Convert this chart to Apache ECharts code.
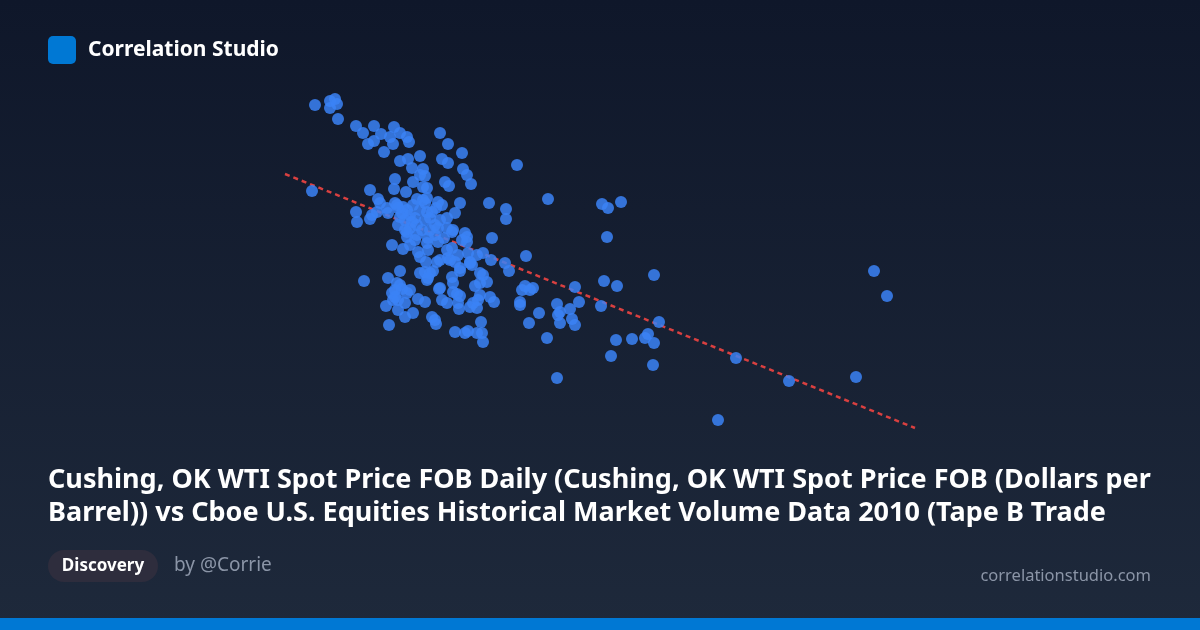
<!DOCTYPE html>
<html>
<head>
<meta charset="utf-8">
<script src="https://cdn.jsdelivr.net/npm/echarts@6/dist/echarts.min.js"></script>
<style>
html,body{margin:0;padding:0;width:1200px;height:630px;overflow:hidden;background:#131c2e;}
#c{width:1200px;height:630px;}
</style>
</head>
<body>
<div id="c"></div>
<script>
// WTI spot price (USD per barrel)
const wtiPrice = [
61.5,63.0,63.5,63.7,63.0,63.8,65.6,66.3,67.4,68.1,66.8,67.4,69.0,69.4,69.3,70.0,70.7,70.9,68.4,70.0,
70.8,72.0,74.0,74.8,76.2,74.2,74.8,76.3,76.7,77.1,71.2,72.3,72.0,72.5,69.5,71.3,72.3,72.7,69.4,70.6,
67.0,61.2,74.5,74.9,81.7,67.8,68.0,65.6,65.7,67.0,67.7,67.2,68.7,68.8,69.5,70.3,70.7,70.2,71.0,70.5,
71.2,70.0,71.3,69.8,71.7,72.3,72.5,72.7,73.8,74.2,72.7,72.0,72.5,73.0,73.5,74.0,74.7,75.2,74.7,71.7,
76.0,75.5,78.9,80.6,80.6,84.8,90.2,90.8,92.1,90.7,69.2,70.3,70.7,71.7,71.5,72.8,73.5,73.8,72.7,71.8,
72.0,74.7,75.2,75.8,74.8,76.7,76.7,76.8,77.0,77.2,78.3,79.1,79.2,80.5,80.9,82.6,77.7,74.0,72.6,73.7,
75.0,76.0,70.7,73.0,75.3,76.5,69.7,71.0,70.0,72.0,72.5,73.0,73.3,72.8,68.8,66.4,75.2,75.3,76.0,77.0,
78.3,78.7,78.0,77.5,70.0,70.2,69.2,69.5,69.3,69.8,70.7,68.6,69.8,70.5,71.3,70.5,71.8,72.5,73.9,75.3,
75.7,76.0,74.7,75.8,75.9,77.0,77.3,77.7,77.8,78.0,79.0,79.4,73.2,73.5,73.6,68.9,75.5,76.5,76.8,77.7,
78.2,78.3,78.1,72.7,74.0,78.0,69.7,82.5,83.0,82.2,83.3,82.0,82.0,83.9,82.9,84.7,85.7,86.0,85.8,87.0,
87.9,87.5,86.0,87.5,87.2,90.4,91.7,90.1,95.4,95.9,91.6,93.2,94.5,94.8,95.4,91.1,95.3,85.7,117.4,118.7,
103.6,108.9,115.6,101.8,71.5,73.2,73.6,72.2,74.4,71.0,72.8,73.8,70.5,69.8,76.2,75.5,69.5,71.0,74.2
];
// Cboe Tape B trade volume (millions of shares)
const tapeBVolume = [
435,439,441,436,432,421,414,407,414,406,396,399,403,413,396,407,403,398,388,379,
381,384,407,396,387,381,377,371,365,356,372,371,365,364,361,358,353,352,351,348,
350,349,358,354,375,341,337,328,318,321,328,325,332,327,337,333,330,327,325,320,
318,323,335,332,341,340,337,342,338,335,328,330,320,322,315,320,312,308,322,315,
337,327,337,331,321,341,336,332,338,303,295,291,303,305,300,302,305,298,297,288,
283,290,292,285,282,298,303,287,278,275,287,280,302,277,269,284,285,280,278,278,
280,272,308,310,310,307,335,312,269,267,268,267,269,262,262,259,263,257,269,277,
265,258,267,254,255,251,247,243,240,240,247,234,230,237,227,223,241,238,251,248,
246,244,237,237,231,233,237,232,240,245,243,238,223,220,216,215,208,207,209,207,
207,198,218,260,252,257,257,254,250,250,252,238,235,227,217,202,236,228,225,231,
238,253,217,215,221,259,254,234,265,218,200,201,202,206,197,184,175,162,269,244,
182,159,163,120,322,328,332,310,302,295,290,312,310,315,300,278,250,250,240
];
// Trend line end points
const trendX = [58.5, 121.5];
const trendY = [366, 112];

const titleLines = [
  "Cushing, OK WTI Spot Price FOB Daily (Cushing, OK WTI Spot Price FOB (Dollars per",
  "Barrel)) vs Cboe U.S. Equities Historical Market Volume Data 2010 (Tape B Trade"
];
const brand = "Correlation Studio";
const badge = "Discovery";
const author = "by @Corrie";
const site = "correlationstudio.com";

const points = wtiPrice.map((x, i) => [x, tapeBVolume[i]]);
const trend = trendX.map((x, i) => [x, trendY[i]]);

const chart = echarts.init(document.getElementById('c'), null, {renderer: 'canvas'});
const FONT = "'Noto Sans', 'Open Sans', sans-serif";
chart.setOption({
  backgroundColor: {
    type: 'linear', x: 0, y: 0, x2: 0, y2: 1,
    colorStops: [{offset: 0, color: '#0f172a'}, {offset: 1, color: '#1e293b'}]
  },
  animation: false,
  grid: {left: 280, right: 280, top: 90, bottom: 190},
  xAxis: {type: 'value', min: 58, max: 122, show: false},
  yAxis: {type: 'value', min: 100, max: 450, show: false},
  series: [
    {
      type: 'line', data: trend, symbol: 'none', z: 1,
      lineStyle: {color: '#d94040', width: 2.5, type: [5, 4]}
    },
    {
      type: 'scatter', data: points, symbolSize: 12, z: 2,
      itemStyle: {color: '#3b82f6', opacity: 0.85}
    }
  ],
  graphic: [
    {type: 'rect', shape: {x: 48, y: 36, width: 28, height: 28, r: 5}, style: {fill: '#0078d4'}},
    {type: 'text', x: 88, y: 50, style: {text: brand, fill: '#ffffff', font: "bold 21px " + FONT, textVerticalAlign: 'middle'}},
    {type: 'text', x: 48, y: 480, style: {text: titleLines[0], fill: '#ffffff', font: "bold 27px " + FONT, textVerticalAlign: 'middle'}},
    {type: 'text', x: 48, y: 513, style: {text: titleLines[1], fill: '#ffffff', font: "bold 27px " + FONT, textVerticalAlign: 'middle'}},
    {type: 'rect', shape: {x: 48, y: 550, width: 110, height: 32, r: 16}, style: {fill: '#2e2d3d'}},
    {type: 'text', x: 103, y: 566, style: {text: badge, fill: '#ffffff', font: "bold 17px " + FONT, textAlign: 'center', textVerticalAlign: 'middle'}},
    {type: 'text', x: 174, y: 566, style: {text: author, fill: '#8b95a7', font: "19px " + FONT, textVerticalAlign: 'middle'}},
    {type: 'text', x: 1151, y: 576, style: {text: site, fill: '#8b95a7', font: "16.5px " + FONT, textAlign: 'right', textVerticalAlign: 'middle'}},
    {type: 'rect', shape: {x: 0, y: 618, width: 1200, height: 12}, style: {fill: '#0078d4'}}
  ]
});
</script>
</body>
</html>
